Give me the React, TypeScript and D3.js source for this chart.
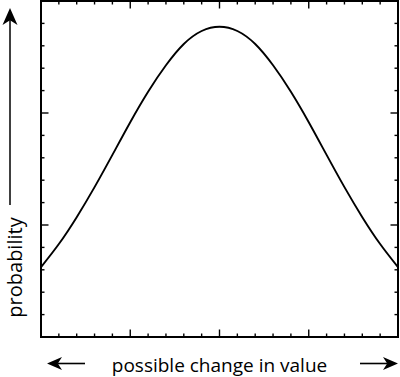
import React from "react";
import * as d3 from "d3";

const changeValues = [-10, -9, -8, -7, -6, -5, -4, -3, -2, -1, 0, 1, 2, 3, 4, 5, 6, 7, 8, 9, 10];
const probability = [3.12, 4.15, 5.35, 6.69, 8.13, 9.59, 10.95, 12.13, 13.08, 13.66, 13.85, 13.66, 13.08, 12.13, 10.95, 9.59, 8.13, 6.69, 5.35, 4.15, 3.12];
const xTicks = d3.range(-10, 11, 1);
const yTicks = d3.range(0, 16, 1);
const xLabel = "possible change in value";
const yLabel = "probability";

const W = 400;
const H = 377;
const FONT = "'Open Sans', 'Noto Sans', sans-serif";

function arrowHead(tx: number, ty: number, dx: number, dy: number, len: number, wid: number) {
  const px = -dy, py = dx;
  const bx = tx - dx * len, by = ty - dy * len;
  const nx = tx - dx * len * 0.72, ny = ty - dy * len * 0.72;
  return `M${tx},${ty} L${bx + px * wid / 2},${by + py * wid / 2} L${nx},${ny} L${bx - px * wid / 2},${by - py * wid / 2} Z`;
}

export default function App() {
  const x = d3.scaleLinear().domain([-10, 10]).range([41, 398]);
  const y = d3.scaleLinear().domain([0, 15]).range([337, 1]);
  const line = d3
    .line<number>()
    .x((_, i) => x(changeValues[i]))
    .y((d) => y(d))
    .curve(d3.curveNatural);

  const minor = 3.5;
  const major = 7.5;
  const tickW = 1.4;

  return (
    <svg
      width={W}
      height={H}
      viewBox={`0 0 ${W} ${H}`}
      style={{ position: "absolute", left: 0, top: 0, background: "#fff" }}
    >
      <rect x={0} y={0} width={W} height={H} fill="#fff" />
      <g stroke="#000" strokeWidth={tickW}>
        {xTicks.map((t) => {
          const len = t % 5 === 0 ? major : minor;
          return (
            <g key={"x" + t}>
              <line x1={x(t)} x2={x(t)} y1={y(15)} y2={y(15) + len} />
              <line x1={x(t)} x2={x(t)} y1={y(0)} y2={y(0) - len} />
            </g>
          );
        })}
        {yTicks.map((t) => {
          const len = t % 5 === 0 ? major : minor;
          return (
            <g key={"y" + t}>
              <line x1={x(-10)} x2={x(-10) + len} y1={y(t)} y2={y(t)} />
              <line x1={x(10)} x2={x(10) - len} y1={y(t)} y2={y(t)} />
            </g>
          );
        })}
      </g>
      <rect
        x={x(-10)}
        y={y(15)}
        width={x(10) - x(-10)}
        height={y(0) - y(15)}
        fill="none"
        stroke="#000"
        strokeWidth={2}
      />
      <path d={line(probability) || ""} fill="none" stroke="#000" strokeWidth={1.9} />

      <text
        x={(x(-10) + x(10)) / 2}
        y={371.5}
        textAnchor="middle"
        fontFamily={FONT}
        fontSize={19}
        fill="#000"
      >
        {xLabel}
      </text>
      <line x1={58} x2={85} y1={363.5} y2={363.5} stroke="#000" strokeWidth={1.6} />
      <path d={arrowHead(47, 363.5, -1, 0, 15, 13)} fill="#000" />
      <line x1={360} x2={387} y1={363.5} y2={363.5} stroke="#000" strokeWidth={1.6} />
      <path d={arrowHead(398, 363.5, 1, 0, 15, 13)} fill="#000" />

      <text
        transform={`translate(22,267.5) rotate(-90)`}
        textAnchor="middle"
        fontFamily={FONT}
        fontSize={20}
        fill="#000"
      >
        {yLabel}
      </text>
      <line x1={10} x2={10} y1={205} y2={20} stroke="#000" strokeWidth={1.5} />
      <path d={arrowHead(10, 8, 0, -1, 17, 15)} fill="#000" />
    </svg>
  );
}
